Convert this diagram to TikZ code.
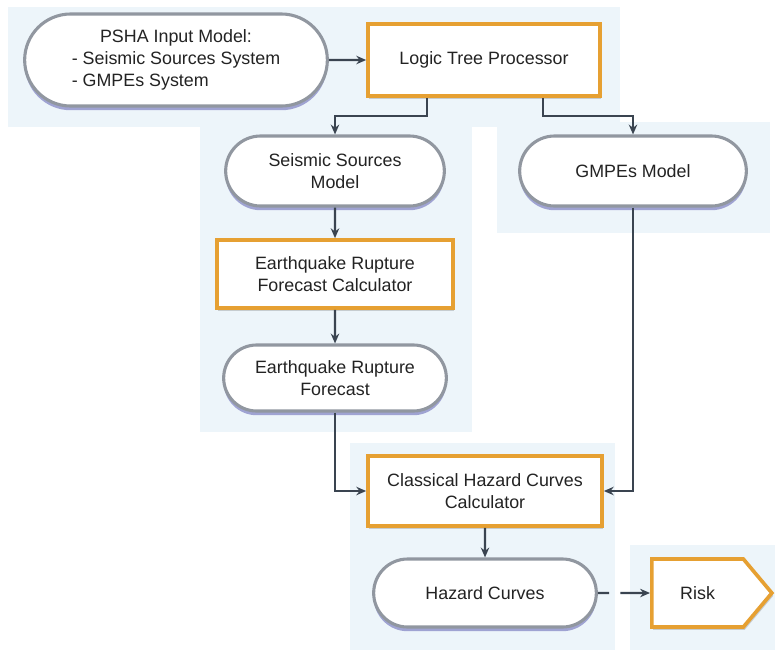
\documentclass[tikz,border=0pt]{standalone}
\usepackage{fontspec}
\setmainfont{Liberation Sans}
\usepackage{xcolor}
\usetikzlibrary{positioning,calc,shapes.misc,shapes.symbols,shadows,arrows.meta}

\definecolor{panelblue}{RGB}{237,245,250}
\definecolor{boxorange}{RGB}{230,160,50}
\definecolor{rimgray}{RGB}{145,151,160}
\definecolor{flowgray}{RGB}{58,68,80}
\definecolor{textgray}{RGB}{35,35,35}

\begin{document}
\begin{tikzpicture}[x=0.025cm, y=-0.025cm,
every node/.style={font=\fontsize{12.7}{15.5}\selectfont, text=textgray},
panel/.style={fill=panelblue, draw=none},
termnode/.style={rounded rectangle, draw=rimgray, line width=2.2pt, fill=white, align=center,
  drop shadow={shadow xshift=0pt, shadow yshift=-3pt, fill=blue!35!gray, opacity=.5}},
procnode/.style={rectangle, draw=boxorange, line width=2.6pt, fill=white, align=center,
  drop shadow={shadow xshift=1pt, shadow yshift=-2pt, fill=gray, opacity=.35}},
flow/.style={draw=flowgray, line width=1.5pt, -{Stealth[length=7pt,width=6pt]}}]

\useasboundingbox (0,0) rectangle (775,652);

% background panels
\fill[panel] (8,7) rectangle (620,127);
\fill[panel] (200,127) rectangle (472,432);
\fill[panel] (497,122) rectangle (770,233);
\fill[panel] (350,443) rectangle (615,650);
\fill[panel] (630,545) rectangle (775,650);

\node[termnode, minimum width=7.8cm, minimum height=2.3cm] (psha) at (176,60)
  {\begin{tabular}{@{}l@{}}\multicolumn{1}{@{}c@{}}{PSHA Input Model:}\\- Seismic Sources System\\- GMPEs System\end{tabular}};
\node[procnode, minimum width=5.8cm, minimum height=1.8cm] (logic) at (484,60) {Logic Tree Processor};
\node[termnode, minimum width=5.7cm, minimum height=1.75cm] (ssm) at (335,171) {Seismic Sources\\Model};
\node[termnode, minimum width=5.9cm, minimum height=1.75cm] (gmpe) at (633,171) {GMPEs Model};
\node[procnode, minimum width=5.9cm, minimum height=1.7cm] (erfc) at (335,274) {Earthquake Rupture\\Forecast Calculator};
\node[termnode, minimum width=5.8cm, minimum height=1.65cm] (erf) at (335,378) {Earthquake Rupture\\Forecast};
\node[procnode, minimum width=5.85cm, minimum height=1.75cm] (chc) at (485,491) {Classical Hazard Curves\\Calculator};
\node[termnode, minimum width=5.8cm, minimum height=1.7cm] (hc) at (485,593) {Hazard Curves};
\node[procnode, signal, signal to=east, signal pointer angle=100, minimum width=3.0cm,
  minimum height=1.7cm, anchor=west] (risk) at (650,593) {Risk};

\draw[flow] (psha) -- (logic);
\draw[flow] ($(logic.south west)!.26!(logic.south east)$) -- ++(0,18) -| (ssm);
\draw[flow] ($(logic.south west)!.75!(logic.south east)$) -- ++(0,18) -| (gmpe);
\draw[flow] (ssm) -- (erfc);
\draw[flow] (erfc) -- (erf);
\draw[flow] (erf) |- (chc);
\draw[flow] (gmpe) |- (chc);
\draw[flow] (chc) -- (hc);
\draw[flow, dash pattern=on 8pt off 8pt on 40pt off 0pt] (hc) -- (risk);

\end{tikzpicture}
\end{document}
